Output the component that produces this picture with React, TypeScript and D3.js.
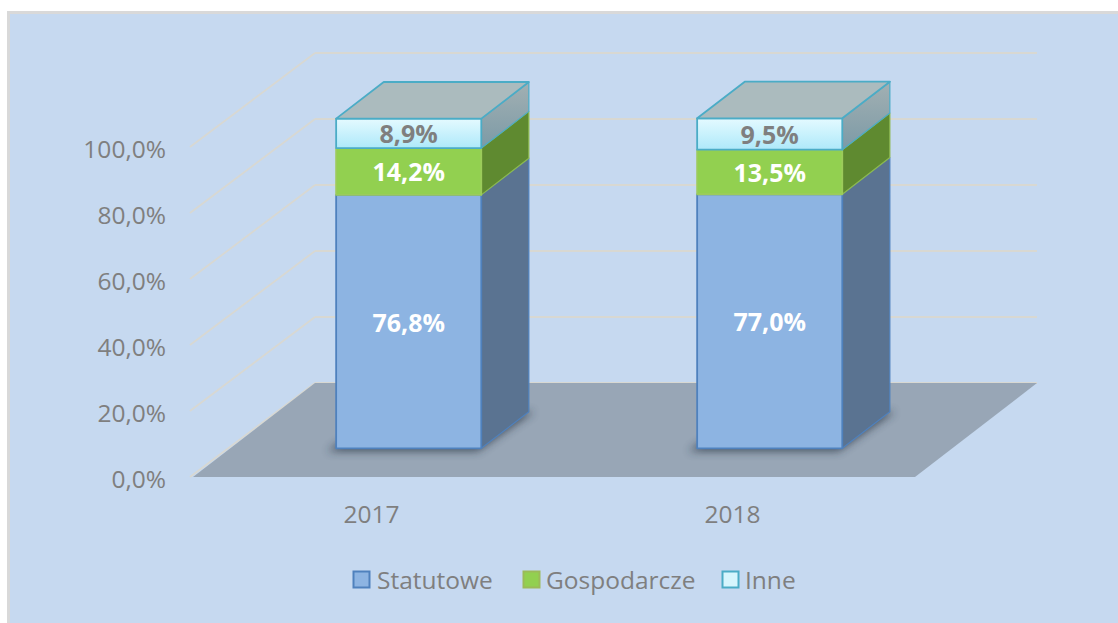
import React from 'react';
import * as d3 from 'd3';

const categories = ['2017', '2018'];
const statutowe = [76.8, 77.0];
const gospodarcze = [14.2, 13.5];
const inne = [8.9, 9.5];
const yTicks = [0, 20, 40, 60, 80, 100];
const seriesNames = ['Statutowe', 'Gospodarcze', 'Inne'];

const W = 1118;
const H = 623;
const OX = 193; // front-left of floor
const OY = 477;
const FW = 722; // floor width
const DX = 122; // depth offset x
const DY = 94; // depth offset y
const D1 = 0.305;
const D2 = 0.695;

const fmt = (v: number) => d3.format('.1f')(v).replace('.', ',') + '%';

export default function App() {
  const x = d3.scaleBand().domain(categories).range([0, FW]).padding(0);
  const y = d3.scaleLinear().domain([0, 100]).range([0, 330]);
  const step = x.step();
  const bw = step * 0.402;

  const P = (xp: number, v: number, d: number): [number, number] => [
    OX + xp + d * DX,
    OY - y(v) - d * DY,
  ];
  const poly = (pts: [number, number][]) => pts.map((p) => p.join(',')).join(' ');

  const series = [
    { name: seriesNames[0], values: statutowe, front: '#8DB4E2', side: '#5A7391', stroke: '#4F81BD', sideStroke: '#4F81BD', label: '#FFFFFF' },
    { name: seriesNames[1], values: gospodarcze, front: '#92D050', side: '#5F8A30', stroke: '#9CCB5B', sideStroke: '#8DB94E', label: '#FFFFFF' },
    { name: seriesNames[2], values: inne, front: 'url(#inneFront)', side: 'url(#inneSide)', stroke: '#4BACC6', sideStroke: '#4BACC6', label: '#7F7F7F' },
  ];

  const font = '"Open Sans", "DejaVu Sans", sans-serif';

  const bars = categories.map((c, i) => {
    const xl = (x(c) as number) + (step - bw) / 2 - 2;
    const xr = xl + bw;
    let acc = 0;
    const segs = series.map((s) => {
      const v0 = acc;
      const v1 = acc + s.values[i];
      acc = v1;
      return { s, v0, v1 };
    });
    return { c, xl, xr, segs, total: acc };
  });

  const legendItems = [
    { name: seriesNames[0], fill: '#8DB4E2', stroke: '#4F81BD', x: 353, tx: 377 },
    { name: seriesNames[1], fill: '#92D050', stroke: '#9BBB59', x: 523, tx: 546 },
    { name: seriesNames[2], fill: '#D6F5FD', stroke: '#4BACC6', x: 722, tx: 745 },
  ];

  return (
    <svg
      width={W}
      height={H}
      style={{ position: 'absolute', left: 0, top: 0, display: 'block' }}
      fontFamily={font}
    >
      <defs>
        <linearGradient id="inneFront" x1="0" y1="0" x2="0" y2="1">
          <stop offset="0" stopColor="#E4FAFF" />
          <stop offset="1" stopColor="#AEE9FA" />
        </linearGradient>
        <linearGradient id="inneSide" x1="0" y1="0" x2="0" y2="1">
          <stop offset="0" stopColor="#A2B0B3" />
          <stop offset="1" stopColor="#7C9AA6" />
        </linearGradient>
        <filter id="shadow" x="-20%" y="-50%" width="140%" height="200%">
          <feGaussianBlur stdDeviation="4" />
        </filter>
      </defs>
      <rect x={0} y={0} width={W} height={H} fill="#FFFFFF" />
      <rect x={8.5} y={12.5} width={W} height={H} fill="#C6D9F0" stroke="#D9D9D9" strokeWidth={3} />

      {/* gridlines: back wall and side wall */}
      {yTicks.map((t) => {
        const b0 = P(0, t, 1);
        const b1 = P(FW, t, 1);
        const f0 = P(0, t, 0);
        return (
          <g key={'g' + t} stroke="#D8D8D2" strokeWidth={1.8} fill="none">
            <line x1={f0[0] - 3} y1={f0[1]} x2={b0[0]} y2={b0[1]} />
            <line x1={b0[0]} y1={b0[1]} x2={b1[0]} y2={b1[1]} />
          </g>
        );
      })}

      {/* floor */}
      <polygon points={poly([P(0, 0, 0), P(FW, 0, 0), P(FW, 0, 1), P(0, 0, 1)])} fill="#98A6B6" />

      {/* shadows */}
      {bars.map((b) => (
        <polygon
          key={'sh' + b.c}
          points={poly([P(b.xl - 5, 0, D1 - 0.03), P(b.xr, 0, D1 - 0.03), P(b.xr + 5, 0, D2), P(b.xl, 0, D2)])}
          fill="#27323F"
          opacity={0.7}
          filter="url(#shadow)"
        />
      ))}

      {/* bars */}
      {bars.map((b) => (
        <g key={'b' + b.c}>
          {b.segs.map(({ s, v0, v1 }) => {
            const side = [P(b.xr, v0, D1), P(b.xr, v1, D1), P(b.xr, v1, D2), P(b.xr, v0, D2)] as [number, number][];
            const front = [P(b.xl, v0, D1), P(b.xr, v0, D1), P(b.xr, v1, D1), P(b.xl, v1, D1)] as [number, number][];
            return (
              <g key={s.name}>
                <polygon points={poly(side)} fill={s.side} stroke={s.sideStroke} strokeWidth={1.2} strokeLinejoin="round" />
                <polygon points={poly(front)} fill={s.front} stroke={s.stroke} strokeWidth={1.8} strokeLinejoin="round" />
              </g>
            );
          })}
          <polygon
            points={poly([P(b.xl, b.total, D1), P(b.xr, b.total, D1), P(b.xr, b.total, D2), P(b.xl, b.total, D2)])}
            fill="#ABBBBE"
            stroke="#4BACC6"
            strokeWidth={1.8}
            strokeLinejoin="round"
          />
          {b.segs.map(({ s, v0, v1 }) => {
            const cx = (b.xl + b.xr) / 2;
            const p = P(cx, (v0 + v1) / 2, D1);
            return (
              <text
                key={'l' + s.name}
                x={p[0]}
                y={p[1] + 1}
                dy="0.36em"
                textAnchor="middle"
                fontSize={25}
                fontWeight="bold"
                fill={s.label}
              >
                {fmt(v1 - v0)}
              </text>
            );
          })}
        </g>
      ))}

      {/* y axis labels */}
      {yTicks.map((t) => {
        const p = P(0, t, 0);
        return (
          <text key={'t' + t} x={p[0] - 27} y={p[1] + 2} dy="0.36em" textAnchor="end" fontSize={24.5} fill="#7F7F7F">
            {fmt(t)}
          </text>
        );
      })}

      {/* category labels */}
      {categories.map((c) => {
        const p = P((x(c) as number) + step / 2, 0, 0);
        return (
          <text key={'c' + c} x={p[0] - 2} y={p[1] + 37} dy="0.36em" textAnchor="middle" fontSize={24.5} fill="#7F7F7F">
            {c}
          </text>
        );
      })}

      {/* legend */}
      {legendItems.map((l) => (
        <g key={'lg' + l.name}>
          <rect x={l.x + 0.5} y={571.5} width={16} height={16} fill={l.fill} stroke={l.stroke} strokeWidth={2} />
          <text x={l.tx} y={580} dy="0.36em" fontSize={24.5} fill="#7F7F7F">
            {l.name}
          </text>
        </g>
      ))}
    </svg>
  );
}
